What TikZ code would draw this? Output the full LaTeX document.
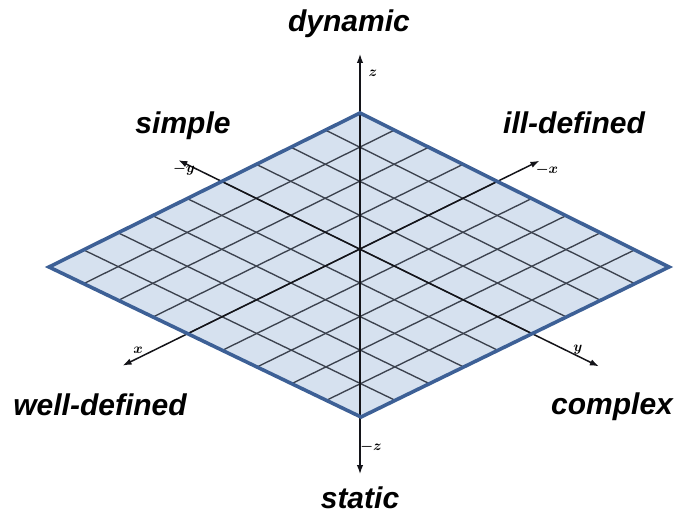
\documentclass[tikz,border=0pt]{standalone}
\usepackage{fontspec}
\setmainfont{Liberation Sans}
\usetikzlibrary{calc,arrows.meta}
\definecolor{planefill}{RGB}{214,225,239}
\definecolor{planeedge}{RGB}{61,96,150}
\definecolor{gridcol}{RGB}{60,66,78}
\definecolor{axiscol}{RGB}{20,20,25}
\tikzset{
  bigtext/.style={font=\fontsize{30}{30}\selectfont\bfseries\itshape, anchor=base, inner sep=0pt},
  axlabel/.style={font=\fontsize{15}{15}\selectfont\boldmath, inner sep=0pt},
  gridline/.style={draw=gridcol, line width=1.35pt},
  axisline/.style={draw=axiscol, line width=1.5pt, {Latex[length=9pt,width=6.5pt]}-{Latex[length=9pt,width=6.5pt]}},
  planeborder/.style={draw=planeedge, line width=3.6pt, line join=miter},
}
\begin{document}
\begin{tikzpicture}[x=1pt,y=-1pt]
\useasboundingbox (0,0) rectangle (676,513);
% plane vertices
\coordinate (T) at (360,113);
\coordinate (L) at (49,267);
\coordinate (R) at (669,267);
\coordinate (B) at (361,417);
\fill[planefill] (T) -- (R) -- (B) -- (L) -- cycle;
% grid
\foreach \i in {1,...,8}{
  \draw[gridline] ($(T)!\i/9!(L)$) -- ($(R)!\i/9!(B)$);
  \draw[gridline] ($(T)!\i/9!(R)$) -- ($(L)!\i/9!(B)$);
}
% axes
\coordinate (ya) at ($(T)!4/9!(L)$);
\coordinate (yb) at ($(R)!4/9!(B)$);
\coordinate (xa) at ($(T)!4/9!(R)$);
\coordinate (xb) at ($(L)!4/9!(B)$);
\coordinate (ymin) at ($(ya)!-0.14!(yb)$);
\coordinate (ymax) at ($(ya)!1.215!(yb)$);
\coordinate (xmin) at ($(xa)!-0.136!(xb)$);
\coordinate (xmax) at ($(xa)!1.21!(xb)$);
\coordinate (zmax) at (360,54);
\coordinate (zmin) at (360,474);
\draw[axisline] (ymin) -- (ymax);
\draw[axisline] (xmin) -- (xmax);
\draw[axisline, line width=1.3pt] (zmin) -- (zmax);
% border
\draw[planeborder] (T) -- (R) -- (B) -- (L) -- cycle;
% axis labels
\node[axlabel] (lz) at (373,73) {$z$};
\node[axlabel] (lmz) at (371,447) {$-z$};
\node[axlabel] (lmy) at (184,169) {$-y$};
\node[axlabel] (lmx) at (547,170) {$-x$};
\node[axlabel] (lx) at (138,350) {$x$};
\node[axlabel] (ly) at (578,350) {$y$};
% big labels
\node[bigtext] (dyn) at (349,32) {dynamic};
\node[bigtext] (sim) at (183,134) {simple};
\node[bigtext] (ill) at (574,134) {ill-defined};
\node[bigtext] (well) at (100,415) {well-defined};
\node[bigtext] (cpx) at (612,414) {complex};
\node[bigtext] (sta) at (360,508) {static};
\end{tikzpicture}
\end{document}
